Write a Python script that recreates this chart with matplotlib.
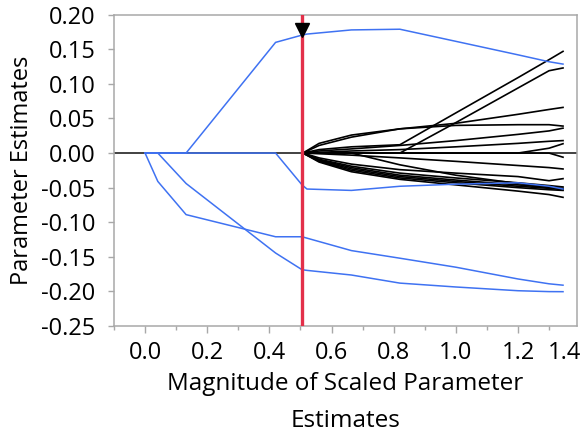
import matplotlib
matplotlib.use("Agg")
import matplotlib.pyplot as plt
from matplotlib.ticker import MultipleLocator, FixedLocator

plt.rcParams['font.family'] = ['Open Sans', 'DejaVu Sans']

# ---- data ----
# x knots of the solution path (magnitude of scaled parameter estimates)
path_x = [0.0, 0.041, 0.132, 0.42, 0.505, 0.521, 0.664, 0.82, 1.0, 1.2, 1.3, 1.345]

blue_1 = [0.0, 0.0, 0.0, 0.160, 0.1705, 0.172, 0.178, 0.179, 0.1615, 0.142, 0.132, 0.1286]
blue_2 = [0.0, 0.0, 0.0, 0.0, -0.046, -0.052, -0.054, -0.048, -0.045, -0.043, -0.048, -0.052]
blue_3 = [0.0, -0.041, -0.089, -0.121, -0.121, -0.123, -0.141, -0.152, -0.165, -0.182, -0.189, -0.191]
blue_4 = [0.0, 0.0, -0.044, -0.1445, -0.1686, -0.1696, -0.1763, -0.188, -0.1936, -0.199, -0.2003, -0.2004]

# black paths (terms entering after the selected step)
black_x = [0.508, 0.56, 0.664, 0.82, 1.0, 1.2, 1.3, 1.345]
black_1 = [0.0, 0.005, 0.009, 0.012, 0.058, 0.109, 0.135, 0.147]
black_2 = [0.0, 0.0, 0.0, 0.0, 0.044, 0.094, 0.119, 0.123]
black_3 = [0.0, 0.014, 0.026, 0.035, 0.043, 0.056, 0.063, 0.066]
black_4 = [0.0, 0.011, 0.023, 0.035, 0.040, 0.041, 0.041, 0.039]
black_5 = [0.0, 0.003, 0.006, 0.011, 0.018, 0.027, 0.032, 0.036]
black_6 = [0.0, 0.001, 0.003, 0.005, 0.009, 0.014, 0.017, 0.018]
black_7 = [0.0, 0.0, 0.0, 0.0, 0.0, 0.0, 0.007, 0.0135]
black_8 = [0.0, 0.0, 0.0, 0.0, 0.0, 0.0, 0.0, -0.006]
black_9 = [0.0, -0.001, -0.003, -0.007, -0.012, -0.018, -0.021, -0.023]
black_10 = [0.0, -0.007, -0.016, -0.024, -0.029, -0.034, -0.040, -0.037]
black_11 = [0.0, -0.009, -0.019, -0.029, -0.036, -0.043, -0.047, -0.049]
black_12 = [0.0, -0.010, -0.021, -0.032, -0.039, -0.046, -0.050, -0.051]
black_13 = [0.0, -0.011, -0.023, -0.034, -0.041, -0.048, -0.051, -0.053]
black_14 = [0.0, -0.012, -0.025, -0.036, -0.043, -0.050, -0.053, -0.054]
black_15 = [0.0, -0.013, -0.027, -0.038, -0.046, -0.055, -0.060, -0.064]
black_16 = [0.0, 0.0, 0.0, -0.017, -0.032, -0.044, -0.049, -0.052]

selected_x = 0.505
x_ticks = [0.0, 0.2, 0.4, 0.6, 0.8, 1.0, 1.2]
y_ticks = [0.20, 0.15, 0.10, 0.05, 0.00, -0.05, -0.10, -0.15, -0.20, -0.25]

# ---- figure ----
fig = plt.figure(figsize=(5.83, 4.34), dpi=100)
ax = fig.add_axes([114/583, 108/434, 463/583, 311.3/434])

ax.axhline(0, color='#333333', lw=1.3, zorder=1)

for ys in [black_1, black_2, black_3, black_4, black_5, black_6, black_7, black_8,
           black_9, black_10, black_11, black_12, black_13, black_14, black_15, black_16]:
    ax.plot(black_x, ys, color='black', lw=1.2, zorder=2)

for ys in [blue_1, blue_2, blue_3, blue_4]:
    ax.plot(path_x, ys, color='#3F72F2', lw=1.1, zorder=3)

ax.axvline(selected_x, color='#E3304A', lw=2.4, zorder=4)
ax.plot([selected_x], [0.178], marker='v', color='black', markersize=10.5, zorder=5)

ax.set_xlim(-0.1, 1.39)
ax.set_ylim(-0.25, 0.20)
ax.xaxis.set_major_locator(FixedLocator(x_ticks))
ax.xaxis.set_minor_locator(MultipleLocator(0.1))
ax.set_yticks(y_ticks)
ax.set_yticklabels([f"{v:.2f}" for v in y_ticks])
ax.set_xticklabels([f"{v:.1f}" for v in x_ticks])

fs = 17
spine_c = '#A8A8A8'
for s in ax.spines.values():
    s.set_color(spine_c)
    s.set_linewidth(1.1)
ax.tick_params(axis='both', which='both', color=spine_c, width=1.0, labelsize=fs,
               labelcolor='black')
ax.tick_params(axis='x', which='major', length=5, pad=6)
ax.tick_params(axis='x', which='minor', length=3)
ax.tick_params(axis='y', which='major', length=4.5, pad=9)

ax.annotate('1.4', xy=(581, 0), xycoords=('figure pixels', 'axes fraction'),
            xytext=(0, -11), textcoords='offset points', ha='right', va='top',
            fontsize=fs, annotation_clip=False)

ax.set_xlabel('Magnitude of Scaled Parameter\nEstimates', fontsize=17.5, linespacing=1.7, labelpad=5)
ax.set_ylabel('Parameter Estimates', fontsize=fs, labelpad=5)

fig.savefig('out.png', dpi=100)
